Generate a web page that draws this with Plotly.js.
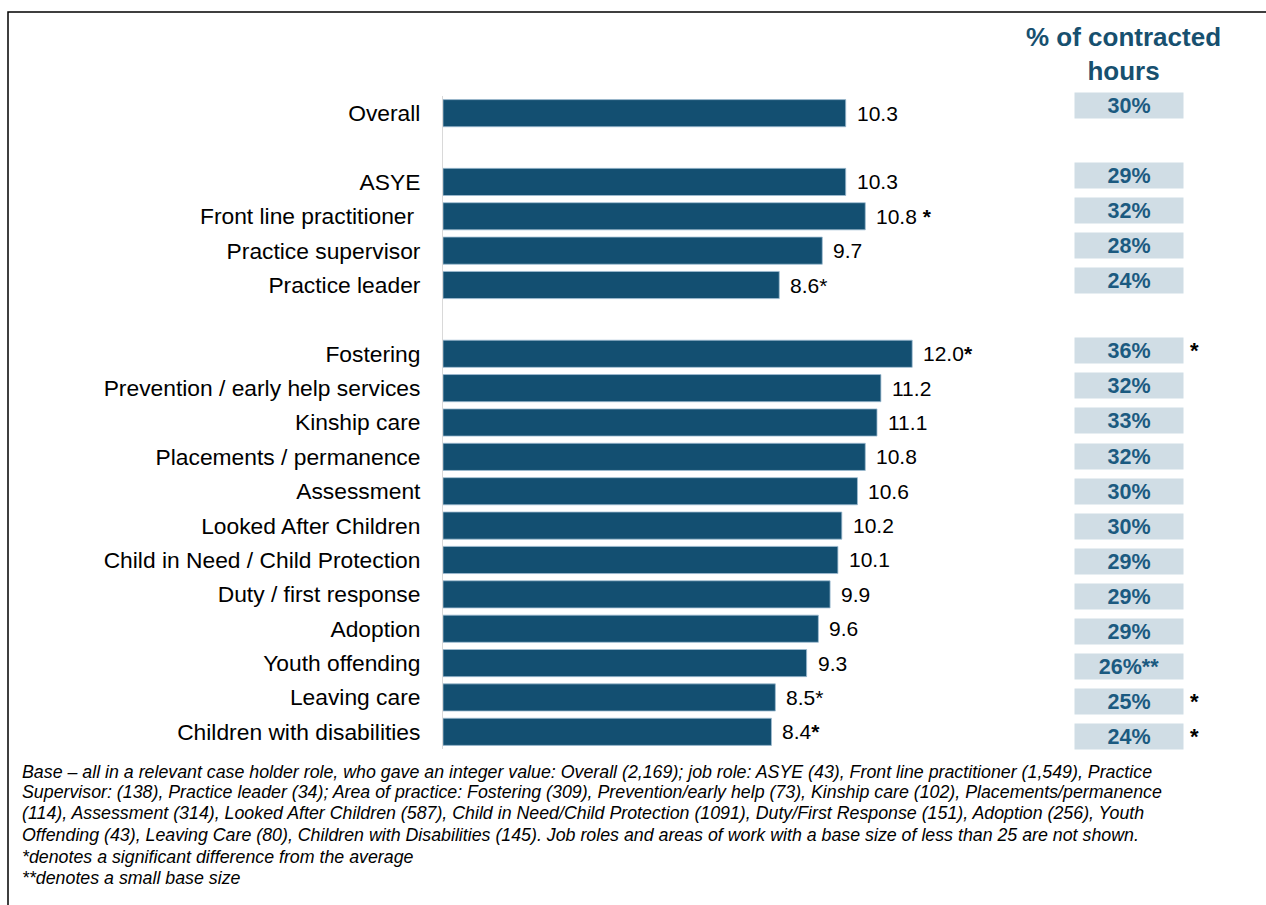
<!DOCTYPE html>
<html>
<head>
<meta charset="utf-8">
<script src="https://cdn.plot.ly/plotly-3.0.1.min.js"></script>
<style>html,body{margin:0;padding:0;background:#fff;}#chart{width:1266px;height:905px;}</style>
</head>
<body>
<div id="chart"></div>
<script>
// ---- data ----
const categories = ["Overall", "", "ASYE", "Front line practitioner\u00a0", "Practice supervisor", "Practice leader", "",
  "Fostering", "Prevention / early help services", "Kinship care", "Placements / permanence", "Assessment",
  "Looked After Children", "Child in Need / Child Protection", "Duty / first response", "Adoption",
  "Youth offending", "Leaving care", "Children with disabilities"];
const hours = [10.3, null, 10.3, 10.8, 9.7, 8.6, null, 12.0, 11.2, 11.1, 10.8, 10.6, 10.2, 10.1, 9.9, 9.6, 9.3, 8.5, 8.4];
const hourFlags = ["", "", "", "\u00a0<b>*</b>", "", "*", "", "<b>*</b>", "", "", "", "", "", "", "", "", "", "*", "<b>*</b>"];
const pctContracted = [30, null, 29, 32, 28, 24, null, 36, 32, 33, 32, 30, 30, 29, 29, 29, 26, 25, 24];
const pctSmallBase = ["", "", "", "", "", "", "", "", "", "", "", "", "", "", "", "", "**", "", ""];
const pctSignificant = ["", "", "", "", "", "", "", "*", "", "", "", "", "", "", "", "", "", "*", "*"];
const pctHeader = "% of contracted<br>hours";
const footnotes = [
  "Base \u2013 all in a relevant case holder role, who gave an integer value: Overall (2,169); job role: ASYE (43), Front line practitioner (1,549), Practice",
  "Supervisor: (138), Practice leader (34); Area of practice: Fostering (309), Prevention/early help (73), Kinship care (102), Placements/permanence",
  "(114), Assessment (314), Looked After Children (587), Child in Need/Child Protection (1091), Duty/First Response (151), Adoption (256), Youth",
  "Offending (43), Leaving Care (80), Children with Disabilities (145). Job roles and areas of work with a base size of less than 25 are not shown.",
  "*denotes a significant difference from the average",
  "**denotes a small base size"
];

// ---- layout helpers ----
const W = 1266, H = 905;
const mL = 443, mR = 0, mT = 96, mB = 156;
const plotW = W - mL - mR, plotH = H - mT - mB;
const px = x => (x - mL) / plotW;           // pixel x -> paper x
const py = y => (H - mB - y) / plotH;       // pixel y -> paper y

const FONT = "Liberation Sans, Arial, sans-serif";
const BAR = "#134f71";
const idx = categories.map((_, i) => i);

const annotations = [];
// value labels
hours.forEach((v, i) => {
  if (v === null) return;
  annotations.push({
    x: v, y: i, xref: "x", yref: "y", xanchor: "left", yanchor: "middle",
    xshift: 9, showarrow: false, text: v.toFixed(1) + hourFlags[i],
    font: {family: FONT, size: 21, color: "#000"}
  });
});
// percent boxes
pctContracted.forEach((p, i) => {
  if (p === null) return;
  annotations.push({
    x: px(1129), y: i, xref: "paper", yref: "y2", xanchor: "center", yanchor: "middle",
    showarrow: false, text: "<b>" + p + "%" + pctSmallBase[i] + "</b>",
    bgcolor: "#d0dde5", width: 106, height: 23, borderpad: 1,
    font: {family: FONT, size: 21.5, color: "#1b5a80"}
  });
  if (pctSignificant[i]) {
    annotations.push({
      x: px(1194), y: i, xref: "paper", yref: "y2", xanchor: "center", yanchor: "middle",
      showarrow: false, text: "<b>" + pctSignificant[i] + "</b>",
      font: {family: FONT, size: 22, color: "#000"}
    });
  }
});
// header
annotations.push({
  x: px(1123), y: py(54), xref: "paper", yref: "paper", xanchor: "center", yanchor: "middle",
  showarrow: false, text: "<b>" + pctHeader + "</b>",
  font: {family: FONT, size: 26, color: "#17506f"}
});
// footnotes
const footY = [772, 792, 813, 835, 857, 878];
footnotes.forEach((t, i) => {
  annotations.push({
    x: px(20), y: py(footY[i]), xref: "paper", yref: "paper", xanchor: "left", yanchor: "middle",
    showarrow: false, text: "<i>" + t + "</i>", align: "left",
    font: {family: FONT, size: 17.8, color: "#000", style: "italic"}
  });
});

const trace = {
  type: "bar", orientation: "h",
  x: hours, y: idx,
  width: 0.79,
  marker: {color: BAR, line: {color: "#9fbdd2", width: 0.8}},
  hoverinfo: "skip"
};

const layout = {
  width: W, height: H,
  margin: {l: mL, r: mR, t: mT, b: mB, pad: 0},
  paper_bgcolor: "#fff", plot_bgcolor: "#fff",
  showlegend: false,
  bargap: 0.2,
  xaxis: {range: [0, plotW / 39.1], visible: false, fixedrange: true},
  yaxis: {
    range: [categories.length - 0.5, -0.5],
    tickmode: "array", tickvals: idx, ticktext: categories,
    showgrid: false, zeroline: false, ticks: "",
    showline: true, linecolor: "#d9d9d9", linewidth: 1,
    ticklabelstandoff: 17,
    tickfont: {family: FONT, size: 22.8, color: "#000"}
  },
  yaxis2: {
    overlaying: "y", range: [(749 - 105) / 35.11, (96 - 105) / 35.11],
    visible: false, showgrid: false, zeroline: false
  },
  shapes: [{
    type: "rect", xref: "paper", yref: "paper",
    x0: px(8), x1: px(1275), y0: py(915), y1: py(12),
    line: {color: "#000", width: 1.5}, fillcolor: "rgba(0,0,0,0)", layer: "below"
  }],
  annotations: annotations
};

Plotly.newPlot("chart", [trace], layout, {displayModeBar: false, staticPlot: true});
</script>
</body>
</html>
